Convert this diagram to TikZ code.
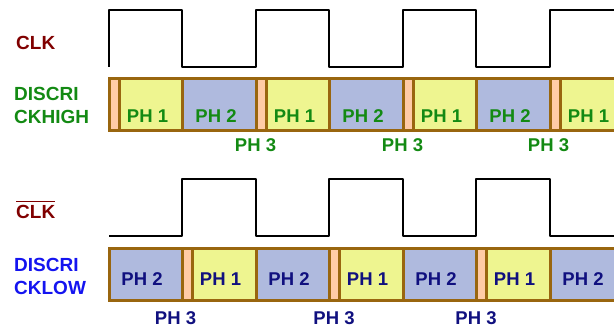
\documentclass[tikz,border=0pt]{standalone}
\usepackage{fontspec}
\setmainfont{Liberation Sans}
\usetikzlibrary{positioning}
\definecolor{clkred}{HTML}{800000}
\definecolor{highgreen}{HTML}{138A13}
\definecolor{lowblue}{HTML}{1414F0}
\definecolor{phnavy}{HTML}{10107F}
\definecolor{barbrown}{HTML}{99660F}
\definecolor{phyellow}{HTML}{EEF590}
\definecolor{phblue}{HTML}{AFBADE}
\definecolor{phorange}{HTML}{FFCBA6}
\tikzset{
  seg/.style={draw=barbrown,line width=3pt,minimum height=52pt,inner sep=0pt,outer sep=0pt},
  phone/.style={seg,fill=phyellow,minimum width=63pt},
  phtwo/.style={seg,fill=phblue,minimum width=74pt},
  phthree/.style={seg,fill=phorange,minimum width=10pt},
  wave/.style={line width=1.6pt,line join=round},
  tag/.style={font=\bfseries\fontsize{19}{23}\selectfont,align=left,inner sep=0pt},
  phtxt/.style={font=\bfseries\fontsize{18.5}{21}\selectfont,inner sep=0pt}
}

\begin{document}
\begin{tikzpicture}[x=1pt,y=-1pt]
  \useasboundingbox (0,0) rectangle (614,331);
  \clip (0,0) rectangle (614,331);

  % signal names
  \node[tag,text=clkred,anchor=base west] (clk) at (16,50) {CLK};
  \node[tag,text=highgreen,anchor=north west] (high) at (14,87) {DISCRI\\CKHIGH};
  \node[tag,text=clkred,anchor=base west] (nclk) at (16,219) {CLK};
  \draw[clkred,line width=1.8pt] ([yshift=4pt]nclk.north west) -- ([yshift=4pt]nclk.north east);
  \node[tag,text=lowblue,anchor=north west] (low) at (14,258) {DISCRI\\CKLOW};

  % clock waveforms
  \draw[wave] (109,67) -- (109,10) -- (182,10) -- (182,67) -- (256,67) -- (256,10)
    -- (329,10) -- (329,67) -- (403,67) -- (403,10) -- (476,10) -- (476,67)
    -- (550,67) -- (550,10) -- (620,10);
  \draw[wave] (109,236) -- (182,236) -- (182,179) -- (256,179) -- (256,236)
    -- (329,236) -- (329,179) -- (403,179) -- (403,236) -- (476,236) -- (476,179)
    -- (550,179) -- (550,236) -- (620,236);

  % DISCRI CKHIGH phases
  \node[phthree] (ho1) at (114,104.5) {};
  \node[phone,right=0pt of ho1] (ha1) {};
  \node[phtwo,right=0pt of ha1] (hb1) {};
  \node[phthree,right=0pt of hb1] (ho2) {};
  \node[phone,right=0pt of ho2] (ha2) {};
  \node[phtwo,right=0pt of ha2] (hb2) {};
  \node[phthree,right=0pt of hb2] (ho3) {};
  \node[phone,right=0pt of ho3] (ha3) {};
  \node[phtwo,right=0pt of ha3] (hb3) {};
  \node[phthree,right=0pt of hb3] (ho4) {};
  \node[phone,right=0pt of ho4] (ha4) {};
  \node[phtxt,text=highgreen] (ta1) at ([shift={(-3pt,-11.5pt)}]ha1.center) {PH 1};
  \node[phtxt,text=highgreen] (tb1) at ([shift={(-3pt,-11.5pt)}]hb1.center) {PH 2};
  \node[phtxt,text=highgreen] (ta2) at ([shift={(-3pt,-11.5pt)}]ha2.center) {PH 1};
  \node[phtxt,text=highgreen] (tb2) at ([shift={(-3pt,-11.5pt)}]hb2.center) {PH 2};
  \node[phtxt,text=highgreen] (ta3) at ([shift={(-3pt,-11.5pt)}]ha3.center) {PH 1};
  \node[phtxt,text=highgreen] (tb3) at ([shift={(-3pt,-11.5pt)}]hb3.center) {PH 2};
  \node[phtxt,text=highgreen] (ta4) at ([shift={(-3pt,-11.5pt)}]ha4.center) {PH 1};
  \node[phtxt,text=highgreen] (tc2) at (255.5,145) {PH 3};
  \node[phtxt,text=highgreen] (tc3) at (402.5,145) {PH 3};
  \node[phtxt,text=highgreen] (tc4) at (548.5,145) {PH 3};

  % DISCRI CKLOW phases
  \node[phtwo,minimum width=73pt] (lb1) at (145.5,274.5) {};
  \node[phthree,right=0pt of lb1] (lo1) {};
  \node[phone,minimum width=64pt,right=0pt of lo1] (la1) {};
  \node[phtwo,minimum width=73pt,right=0pt of la1] (lb2) {};
  \node[phthree,right=0pt of lb2] (lo2) {};
  \node[phone,minimum width=64pt,right=0pt of lo2] (la2) {};
  \node[phtwo,minimum width=73pt,right=0pt of la2] (lb3) {};
  \node[phthree,right=0pt of lb3] (lo3) {};
  \node[phone,minimum width=64pt,right=0pt of lo3] (la3) {};
  \node[phtwo,minimum width=73pt,right=0pt of la3] (lb4) {};
  \node[phtxt,text=phnavy] (ub1) at ([shift={(-3.5pt,-5pt)}]lb1.center) {PH 2};
  \node[phtxt,text=phnavy] (ua1) at ([shift={(-3.5pt,-5pt)}]la1.center) {PH 1};
  \node[phtxt,text=phnavy] (ub2) at ([shift={(-3.5pt,-5pt)}]lb2.center) {PH 2};
  \node[phtxt,text=phnavy] (ua2) at ([shift={(-3.5pt,-5pt)}]la2.center) {PH 1};
  \node[phtxt,text=phnavy] (ub3) at ([shift={(-3.5pt,-5pt)}]lb3.center) {PH 2};
  \node[phtxt,text=phnavy] (ua3) at ([shift={(-3.5pt,-5pt)}]la3.center) {PH 1};
  \node[phtxt,text=phnavy] (ub4) at ([shift={(-3.5pt,-5pt)}]lb4.center) {PH 2};
  \node[phtxt,text=phnavy] (uc1) at (175.5,318.5) {PH 3};
  \node[phtxt,text=phnavy] (uc2) at (334,318.5) {PH 3};
  \node[phtxt,text=phnavy] (uc3) at (476,318.5) {PH 3};
\end{tikzpicture}
\end{document}
